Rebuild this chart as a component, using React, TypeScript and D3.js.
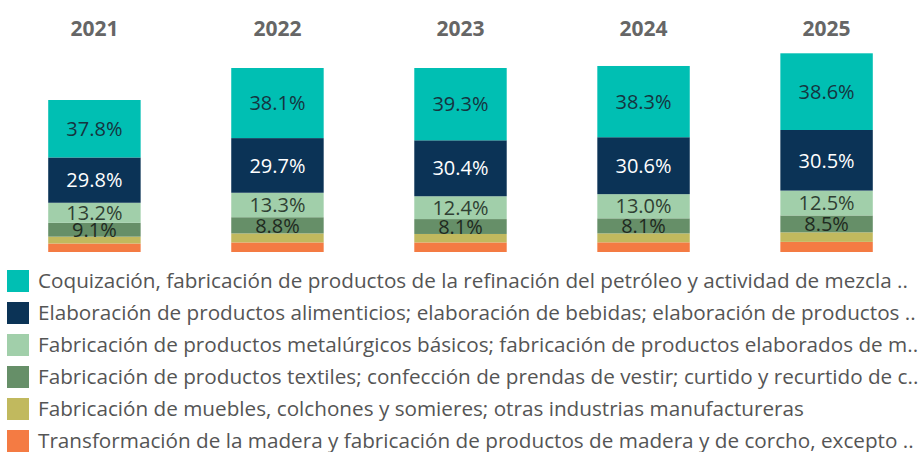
import React from "react";
import * as d3 from "d3";

const years = ["2021", "2022", "2023", "2024", "2025"];
const seriesNames = [
  "Coquización, fabricación de productos de la refinación del petróleo y actividad de mezcla ..",
  "Elaboración de productos alimenticios; elaboración de bebidas; elaboración de productos ..",
  "Fabricación de productos metalúrgicos básicos; fabricación de productos elaborados de m..",
  "Fabricación de productos textiles; confección de prendas de vestir; curtido y recurtido de c..",
  "Fabricación de muebles, colchones y somieres; otras industrias manufactureras",
  "Transformación de la madera y fabricación de productos de madera y de corcho, excepto ..",
];
const coque = [5.746, 7.01, 7.231, 7.124, 7.67];
const alimentos = [4.53, 5.465, 5.594, 5.692, 6.06];
const metal = [2.006, 2.447, 2.282, 2.418, 2.484];
const textil = [1.383, 1.619, 1.49, 1.507, 1.689];
const muebles = [0.684, 0.902, 0.846, 0.893, 0.954];
const madera = [0.851, 0.957, 0.957, 0.967, 1.013];
const seriesValues = [coque, alimentos, metal, textil, muebles, madera];
const colors = ["#00bfb3", "#0b3356", "#a1cfaa", "#668f68", "#c1b95e", "#f47b43"];
const labelColors = ["#16343f", "#ffffff", "#2f3f33", "#1f2a20", "#222", "#222"];

const W = 923;
const H = 452;

export default function App() {
  const x = d3.scaleBand().domain(years).range([3, 918]).paddingInner(0.495).paddingOuter(0.247);
  const y = d3.scaleLinear().domain([0, 20]).range([252, 52]);
  const rows = years.map((yr, i) => {
    const o: any = { year: yr };
    seriesValues.forEach((s, k) => (o["s" + k] = s[i]));
    return o;
  });
  const keys = seriesValues.map((_, k) => "s" + k);
  const stack = d3.stack().keys(keys.slice().reverse())(rows as any);
  const totals = years.map((_, i) => d3.sum(seriesValues, (s) => s[i]));

  return (
    <svg width={W} height={H} style={{ position: "absolute", left: 0, top: 0, background: "#fff" }}>
      {years.map((yr) => (
        <text key={yr} x={x(yr)! + x.bandwidth() / 2} y={36} textAnchor="middle"
          fontFamily="'Open Sans', sans-serif" fontWeight={700} fontSize={21} fill="#666">
          {yr}
        </text>
      ))}
      {stack.map((layer) => {
        const k = keys.indexOf(layer.key);
        return (
          <g key={layer.key}>
            {layer.map((d, i) => {
              const y0 = y(d[0]);
              const y1 = y(d[1]);
              const hgt = y0 - y1;
              const pct = (seriesValues[k][i] / totals[i]) * 100;
              return (
                <g key={i}>
                  <rect x={x(years[i])} y={y1} width={x.bandwidth()} height={hgt} fill={colors[k]} />
                  {hgt > 12 && (
                    <text x={x(years[i])! + x.bandwidth() / 2} y={(y0 + y1) / 2} dy="0.36em"
                      textAnchor="middle" fontFamily="'Open Sans', sans-serif" fontSize={20}
                      fill={labelColors[k]}>
                      {pct.toFixed(1)}%
                    </text>
                  )}
                </g>
              );
            })}
          </g>
        );
      })}
      {seriesNames.map((name, k) => (
        <g key={k} transform={`translate(7, ${281 + k * 32})`}>
          <rect x={0} y={-11} width={22} height={22} fill={colors[k]} />
          <text x={31} y={0} dy="0.36em" fontFamily="'Open Sans', sans-serif" fontSize={20.7} fill="#555">
            {name}
          </text>
        </g>
      ))}
    </svg>
  );
}
